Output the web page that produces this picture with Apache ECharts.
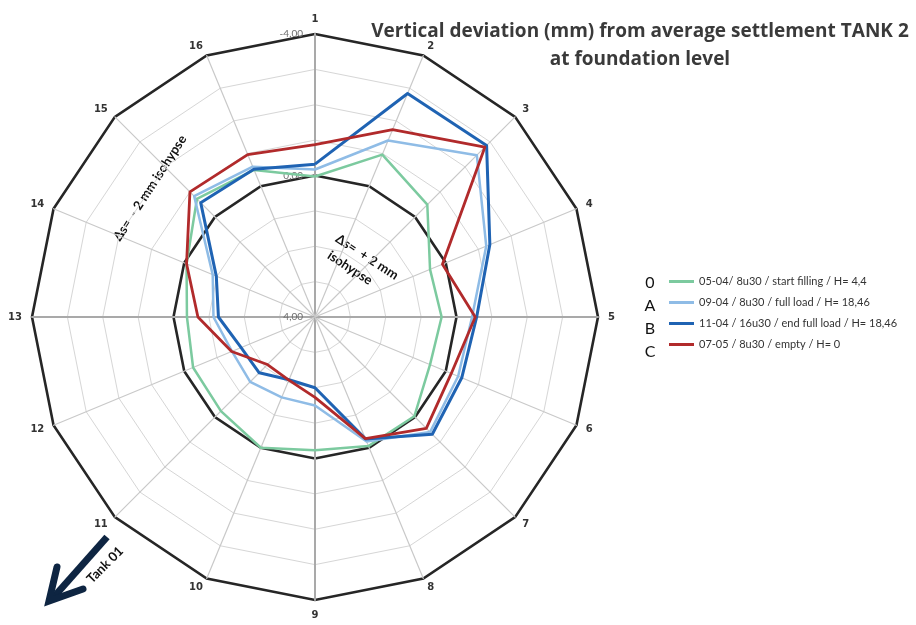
<!DOCTYPE html>
<html>
<head>
<meta charset="utf-8">
<script src="https://cdn.jsdelivr.net/npm/echarts@6/dist/echarts.min.js"></script>
<style>
  html, body { margin: 0; padding: 0; background: #ffffff; }
  #chart { width: 916px; height: 625px; }
</style>
</head>
<body>
<div id="chart"></div>
<script>
// ---------------- data ----------------
const axisNames = ['1', '2', '3', '4', '5', '6', '7', '8', '9', '10', '11', '12', '13', '14', '15', '16'];

const seriesLetters = ['0', 'A', 'B', 'C'];
const seriesNames = [
  '05-04/ 8u30 / start filling / H= 4,4',
  '09-04 / 8u30 / full load / H= 18,46',
  '11-04 / 16u30 / end full load / H= 18,46',
  '07-05 / 8u30 / empty / H= 0'
];

// vertical deviation in mm, per measuring point 1..16
const values0 = [0.03, -0.97, -0.49, 0.48, 0.42, 0.48, 0.03, 0.05, 0.23, 0.00, 0.24, 0.27, 0.38, 0.07, -0.72, -0.50];
const valuesA = [-0.17, -1.40, -2.47, -1.24, -0.44, -0.38, -0.60, 0.19, 1.50, 1.54, 1.41, 1.46, 1.13, 0.87, -0.83, -0.60];
const valuesB = [-0.32, -2.84, -2.86, -1.35, -0.57, -0.49, -0.69, 0.27, 2.00, 2.08, 1.77, 1.74, 1.27, 0.98, -0.57, -0.52];
const valuesC = [-0.87, -1.73, -2.79, 0.10, -0.53, -0.17, -0.45, 0.28, 1.73, 2.07, 2.10, 1.45, 0.69, 0.07, -1.00, -0.97];

const axisMin = -4;
const axisMax = 4;
const tickLabelValues = [-4, 0, 4];     // labels written on axis 1

// ---------------- styling ----------------
const seriesColors = ['#7cca9f', '#8fbce6', '#1f63b3', '#b12a2b'];
const seriesWidths = [2.5, 2.5, 3, 2.8];
const allValues = [values0, valuesA, valuesB, valuesC];

// ECharts radar axes run centre -> outside from min to max and cannot be inverted;
// the reference has +4 in the centre and -4 outside, so the negated value is plotted.
const toPlot = v => -v;
// radar indicators are laid out counter-clockwise; the reference numbers clockwise
const order = axisNames.map((_, i) => (i === 0 ? 0 : axisNames.length - i));
const mainAxes = [0, 4, 8, 12];
const fmt = v => v.toFixed(2).replace('.', ',');

const indicatorsMain = order.map(i => ({
  name: axisNames[i],
  min: -axisMax,
  max: -axisMin,
  axisLine: {
    lineStyle: {
      color: mainAxes.includes(i) ? '#a9a9a9' : '#c9c9c9',
      width: mainAxes.includes(i) ? 2 : 1.2
    }
  },
  axisLabel: i === 0 ? {
    show: true,
    showMinLabel: true,
    showMaxLabel: true,
    margin: 12,
    color: '#6e6e6e',
    fontSize: 10,
    fontFamily: 'Lato, sans-serif',
    formatter: p => (tickLabelValues.includes(-p) ? fmt(-p === 0 ? 0 : -p) : '')
  } : { show: false }
}));

const indicatorsIso = order.map(i => ({ name: axisNames[i], min: -axisMax, max: -axisMin }));

const chart = echarts.init(document.getElementById('chart'), null, { renderer: 'canvas' });

const option = {
  backgroundColor: '#ffffff',
  animation: false,
  title: {
    text: 'Vertical deviation (mm) from average settlement TANK 2\nat foundation level',
    left: 640,
    top: 18,
    padding: 0,
    textAlign: 'center',
    textVerticalAlign: 'top',
    textStyle: {
      fontFamily: '"Open Sans", sans-serif',
      fontSize: 19,
      fontWeight: 'bold',
      color: '#3a3a3a',
      lineHeight: 28
    }
  },
  legend: {
    data: seriesNames,
    orient: 'vertical',
    left: 669,
    top: 276,
    padding: 0,
    itemWidth: 25,
    itemHeight: 3,
    itemGap: 10,
    icon: 'rect',
    selectedMode: false,
    textStyle: { fontFamily: 'Lato, sans-serif', fontSize: 11, color: '#333333' }
  },
  radar: [
    {
      center: [315, 317],
      radius: 283,
      startAngle: 90,
      shape: 'polygon',
      splitNumber: 8,
      indicator: indicatorsMain,
      nameGap: 10,
      axisName: {
        color: '#333333',
        fontSize: 10,
        fontWeight: 'bold',
        fontFamily: 'DejaVu Sans, sans-serif'
      },
      axisLine: { show: true, lineStyle: { color: '#c9c9c9', width: 1.2 } },
      axisTick: { show: false },
      axisLabel: { show: false },
      splitLine: { show: true, lineStyle: { color: '#d6d6d6', width: 1 } },
      splitArea: { show: false }
    },
    {
      // thick isohypse rings at 0,00 and -4,00
      center: [315, 317],
      radius: 283,
      startAngle: 90,
      shape: 'polygon',
      splitNumber: 2,
      indicator: indicatorsIso,
      axisName: { show: false },
      axisLine: { show: false },
      axisTick: { show: false },
      axisLabel: { show: false },
      splitLine: { show: true, lineStyle: { color: '#262626', width: 2.6 } },
      splitArea: { show: false }
    }
  ],
  series: seriesNames.map((name, k) => ({
    type: 'radar',
    radarIndex: 0,
    name: name,
    symbol: 'none',
    silent: true,
    z: 5,
    itemStyle: { color: seriesColors[k] },
    lineStyle: { color: seriesColors[k], width: seriesWidths[k] },
    data: [{ name: name, value: order.map(i => toPlot(allValues[k][i])) }]
  })),
  graphic: [
    ...seriesLetters.map((t, k) => ({
      type: 'text',
      x: 650,
      y: 283 + k * 22.8,
      style: {
        text: t, fill: '#111111', fontSize: 16, fontFamily: 'Lato, sans-serif',
        align: 'center', verticalAlign: 'middle'
      }
    })),
    {
      type: 'text', x: 150, y: 188, rotation: 57 * Math.PI / 180,
      style: {
        text: '\u0394s=  - 2 mm isohypse', fill: '#111111', fontSize: 13, fontWeight: 'bold',
        fontFamily: 'Lato, sans-serif', align: 'center', verticalAlign: 'middle'
      }
    },
    {
      type: 'text', x: 367, y: 257, rotation: -33 * Math.PI / 180,
      style: {
        text: '\u0394s=  + 2 mm', fill: '#111111', fontSize: 13, fontWeight: 'bold',
        fontFamily: 'Lato, sans-serif', align: 'center', verticalAlign: 'middle'
      }
    },
    {
      type: 'text', x: 350, y: 268, rotation: -33 * Math.PI / 180,
      style: {
        text: 'isohypse', fill: '#111111', fontSize: 13, fontWeight: 'bold',
        fontFamily: 'Lato, sans-serif', align: 'center', verticalAlign: 'middle'
      }
    },
    {
      type: 'line',
      shape: { x1: 107, y1: 537, x2: 52, y2: 599 },
      style: { stroke: '#0e2542', lineWidth: 7 }
    },
    {
      type: 'polyline',
      shape: { points: [[57, 567], [49, 601], [83, 589]] },
      style: { stroke: '#0e2542', lineWidth: 7, fill: 'none', lineJoin: 'miter', lineCap: 'round' }
    },
    {
      type: 'text', x: 105, y: 565, rotation: 45 * Math.PI / 180,
      style: {
        text: 'Tank 01', fill: '#111111', fontSize: 13, fontWeight: 'bold',
        fontFamily: 'Lato, sans-serif', align: 'center', verticalAlign: 'middle'
      }
    }
  ]
};

chart.setOption(option);
</script>
</body>
</html>
